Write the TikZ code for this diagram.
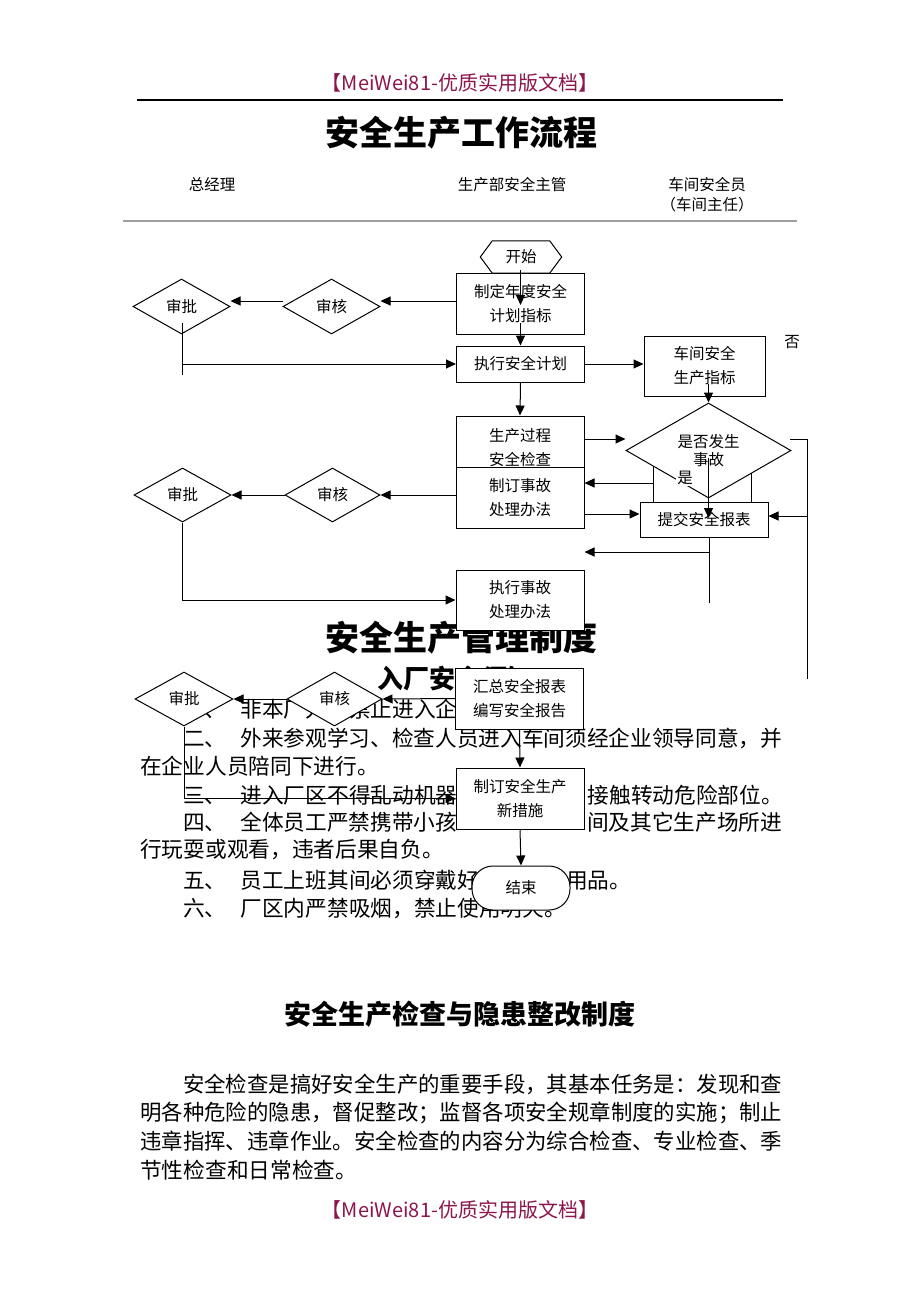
\documentclass[tikz,border=0pt]{standalone}
\usepackage{fontspec}
\usepackage{graphicx}
\setmainfont{Noto Sans CJK SC}
\usetikzlibrary{arrows.meta,shapes.geometric}
\definecolor{hdr}{RGB}{140,22,78}
\newcommand\nfont{\fontsize{15.5pt}{24pt}\selectfont}
\newcommand\bodyfont{\fontsize{21.7pt}{26pt}\selectfont}
\newcommand\jline[2]{\resizebox{#1}{\height}{#2}}
\tikzset{
  box/.style={draw, fill=white, line width=1pt, minimum width=128pt, inner sep=0pt, align=center, font=\nfont},
  dia/.style={diamond, draw, fill=white, line width=1pt, minimum width=97pt, minimum height=55pt, inner sep=0pt, font=\nfont},
  arr/.style={line width=1pt, -{Triangle[length=10pt,width=9pt]}},
  ln/.style={line width=1pt},
  body/.style={anchor=west, inner sep=0pt, font=\bodyfont},
  hd/.style={inner sep=0pt, font=\nfont},
  ttl/.style={inner sep=0pt, font=\fontsize{34pt}{36pt}\selectfont\bfseries},
  wm/.style={inner sep=0pt, text=hdr, font=\fontsize{20pt}{22pt}\selectfont},
}
\begin{document}
\begin{tikzpicture}[x=1pt,y=-1pt]
\useasboundingbox (0,0) rectangle (920,1302);
\fill[white] (0,0) rectangle (920,1302);

% header
\node[wm] (wmtop) at (460,83) {【MeiWei81-优质实用版文档】};
\coordinate (hl1a) at (137,100); \coordinate (hl1b) at (783,100);
\draw[line width=1.2pt] (hl1a) -- (hl1b);
\node[ttl] (title) at (461,133) {安全生产工作流程};
\node[hd] (r1) at (212,185) {总经理};
\node[hd] (r2) at (512,185) {生产部安全主管};
\node[hd] (r3) at (707,185) {车间安全员};
\node[hd] (r4) at (707,205) {（车间主任）};
\coordinate (hl2a) at (123,221); \coordinate (hl2b) at (797,221);
\draw[line width=2.5pt, gray!75] (hl2a) -- (hl2b);

% second title and body text (under the chart)
\node[ttl] (title2) at (461,638) {安全生产管理制度};
\node[anchor=west, inner sep=0pt, font=\fontsize{26pt}{28pt}\selectfont\bfseries] (sub) at (377,679) {入厂安全须知};
\node[body] (t1) at (183,709) {一、\hspace{14pt}非本厂人员禁止进入企业};
\node[body] (t2) at (183,738) {\jline{599pt}{二、\hspace{14pt}外来参观学习、检查人员进入车间须经企业领导同意，并}};
\node[body] (t3) at (140,766) {在企业人员陪同下进行。};
\node[body] (t4) at (183,795) {三、\hspace{14pt}进入厂区不得乱动机器\hspace{6em}接触转动危险部位。};
\node[body] (t5) at (183,822) {\jline{599pt}{四、\hspace{14pt}全体员工严禁携带小孩\hspace{6em}间及其它生产场所进}};
\node[body] (t6) at (140,850) {行玩耍或观看，违者后果自负。};
\node[body] (t7) at (183,880) {五、\hspace{14pt}员工上班其间必须穿戴好\hspace{4em}用品。};
\node[body] (t8) at (183,909) {六、\hspace{14pt}厂区内严禁吸烟，禁止使用明火。};

\node[inner sep=0pt, font=\fontsize{27pt}{29pt}\selectfont\bfseries] (title3) at (460,1014) {安全生产检查与隐患整改制度};
\node[body] (p1) at (183,1084) {\jline{599pt}{安全检查是搞好安全生产的重要手段，其基本任务是：发现和查}};
\node[body] (p2) at (140,1113) {\jline{642pt}{明各种危险的隐患，督促整改；监督各项安全规章制度的实施；制止}};
\node[body] (p3) at (140,1141) {\jline{642pt}{违章指挥、违章作业。安全检查的内容分为综合检查、专业检查、季}};
\node[body] (p4) at (140,1170) {节性检查和日常检查。};
\node[wm] (wmbot) at (460,1210) {【MeiWei81-优质实用版文档】};

% flowchart
\node[hd, minimum width=81pt, minimum height=32pt] (start) at (521,257) {开始};
\draw[ln] ([xshift=12pt]start.north west) -- ([xshift=-12pt]start.north east) -- (start.east)
  -- ([xshift=-12pt]start.south east) -- ([xshift=12pt]start.south west) -- (start.west) -- cycle;
\node[box, minimum height=61pt] (plan) at (520.5,303.5) {制定年度安全\\计划指标};
\node[box, minimum height=36pt] (exec) at (520.5,364) {执行安全计划};
\node[box, minimum width=121pt, minimum height=60pt] (wsbox) at (704.5,366) {车间安全\\生产指标};
\node[hd] (no) at (792,342) {否};
\node[box, minimum height=64pt] (check) at (520,448) {生产过程\\安全检查};
\node[box, minimum height=61pt] (rule) at (520,497.5) {制订事故\\处理办法};
\coordinate (hbA) at (653,455); \coordinate (hbB) at (751,502);
\draw[ln] (hbA) rectangle (hbB);
\node[hd] (frag) at (722,481) {否};
\node[dia, minimum width=165pt, minimum height=95pt, font=\fontsize{15.5pt}{18pt}\selectfont, align=center] (decide) at (708.5,450.5) {是否发生\\事故};
\node[box, minimum height=35pt] (submit) at (704,519.5) {提交安全报表};
\node[fill=white, inner sep=1.5pt, font=\nfont] (yes) at (685,478) {是};

\node[dia] (aud1) at (331.5,306.5) {审核};
\node[dia] (app1) at (181.5,306.5) {审批};
\node[dia, minimum width=95pt, minimum height=54pt] (aud2) at (332.5,495) {审核};
\node[dia, minimum height=54pt] (app2) at (182.5,495) {审批};
\node[box, minimum height=60pt] (execrule) at (520,600) {执行事故\\处理办法};
\node[box, minimum height=61pt] (summary) at (519.5,698.5) {汇总安全报表\\编写安全报告};
\node[dia, minimum width=95pt, minimum height=54pt] (aud3) at (334.5,699) {审核};
\node[dia, minimum width=98pt, minimum height=54pt] (app3) at (184,699) {审批};
\node[box, minimum height=61pt] (measure) at (520,798.5) {制订安全生产\\新措施};
\node[draw, fill=white, line width=1pt, rounded corners=21pt, minimum width=98pt, minimum height=44pt, inner sep=0pt, font=\nfont] (end) at (521,888) {结束};

% connectors
\coordinate (s1) at (520.5,270); \coordinate (s2) at (520.5,305); \coordinate (s3) at (520.5,323);
\draw[arr] (s1) -- (s2);
\draw[arr] (s3) -- (exec.north);
\coordinate (y301) at (0,301);
\draw[arr] (plan.west |- y301) -- (aud1.east |- y301);
\draw[arr] (aud1.west |- y301) -- (app1.east |- y301);
\coordinate (v1a) at (182,323); \coordinate (v1b) at (182,375);
\draw[ln] (v1a) -- (v1b);
\draw[arr] (v1a |- exec.west) -- (exec.west);
\draw[arr] (exec.east) -- (exec.east -| wsbox.west);
\coordinate (w1) at (708.5,384);
\draw[arr] (w1) -- (decide.north);
\draw[arr] (exec.south) -- (check.north);
\coordinate (y439) at (0,439);
\draw[arr] (check.east |- y439) -- (decide.west |- y439);
\coordinate (hb) at (653,483);
\draw[arr] (hb) -- (hb -| rule.east);
\coordinate (y514) at (0,514);
\draw[arr] (rule.east |- y514) -- (submit.west |- y514);
\coordinate (rt) at (790,439); \coordinate (rb) at (807,679);
\draw[ln] (rt) -| (rb);
\coordinate (y516) at (0,516);
\draw[arr] (rb |- y516) -- (submit.east |- y516);
\coordinate (d1) at (708.5,458); \coordinate (d2) at (708.5,518);
\draw[arr] (d1) -- (d2);
\coordinate (e1) at (709,537); \coordinate (e2) at (709,603);
\draw[ln] (e1) -- (e2);
\coordinate (y552) at (0,552);
\draw[arr] (e1 |- y552) -- (rule.east |- y552);
\draw[arr] (rule.west |- aud2.east) -- (aud2.east);
\draw[arr] (aud2.west) -- (app2.east);
\draw[arr] (app2.south) |- (execrule.west);
\draw[arr] (summary.west) -- (aud3.east);
\draw[arr] (aud3.west) -- (app3.east);
\draw[arr] (app3.south) |- (measure.west);
\draw[arr] (summary.south) -- (measure.north);
\draw[arr] (measure.south) -- (end.north);
\end{tikzpicture}
\end{document}
